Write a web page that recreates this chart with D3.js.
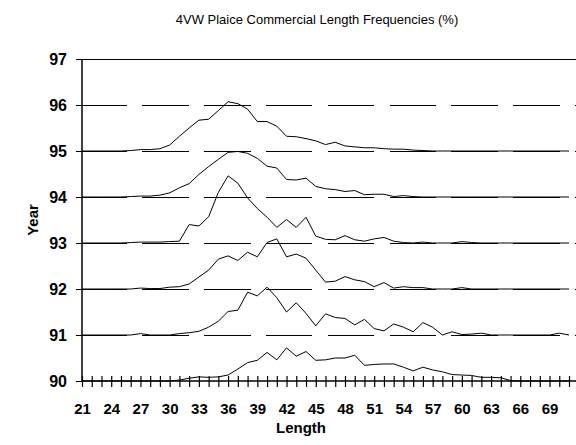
<!DOCTYPE html>
<html>
<head>
<meta charset="utf-8">
<script src="https://cdn.jsdelivr.net/npm/d3@7"></script>
<style>
  body { margin: 0; background: #fff; }
  svg { display: block; font-family: Arial, "Liberation Sans", sans-serif; }
</style>
</head>
<body>
<svg id="chart"></svg>
<script>
// length classes (cm), one per category on the x axis
const lengths = [21, 22, 23, 24, 25, 26, 27, 28, 29, 30, 31, 32, 33, 34, 35, 36, 37, 38, 39, 40,
  41, 42, 43, 44, 45, 46, 47, 48, 49, 50, 51, 52, 53, 54, 55, 56, 57, 58, 59, 60,
  61, 62, 63, 64, 65, 66, 67, 68, 69, 70, 71];

const years = [90, 91, 92, 93, 94, 95];
const yearTicks = [90, 91, 92, 93, 94, 95, 96, 97];
const lengthLabels = [21, 24, 27, 30, 33, 36, 39, 42, 45, 48, 51, 54, 57, 60, 63, 66, 69];

// frequencies (%) by length, one array per year
const freq90 = [0, 0, 0, 0, 0, 0, 0, 0, 0, 0, 0.2, 0.6, 0.9, 0.8, 0.9, 1.3, 2.6, 4.0, 4.5, 6.2,
  4.6, 7.2, 5.4, 6.4, 4.5, 4.6, 5.0, 5.0, 5.6, 3.4, 3.6, 3.7, 3.7, 3.0, 2.2, 3.0, 2.4, 2.0, 1.4, 1.3,
  1.2, 0.8, 0.8, 0.7, 0.1, 0, 0, 0, 0, 0, 0];
const freq91 = [0, 0, 0, 0, 0, 0, 0.3, 0, 0, 0, 0.3, 0.5, 0.8, 1.7, 3.0, 5.1, 5.4, 9.3, 8.5, 10.4,
  8.1, 5.0, 7.0, 4.7, 2.0, 4.6, 3.8, 3.6, 2.2, 3.4, 1.4, 0.9, 2.4, 1.7, 0.7, 2.7, 1.7, 0, 0.7, 0.1,
  0.2, 0.4, 0, 0, 0, 0, 0, 0, 0, 0.4, 0];
const freq92 = [0, 0, 0, 0, 0, 0, 0.2, 0.1, 0.1, 0.4, 0.5, 1.1, 2.6, 4.1, 6.5, 7.2, 6.2, 8.0, 7.0, 10.1,
  10.9, 7.0, 7.6, 6.7, 4.1, 1.5, 1.7, 2.7, 2.0, 1.6, 0.5, 1.4, 0.2, 0.5, 0.3, 0.3, 0, 0, 0, 0.3,
  0, 0, 0, 0, 0, 0, 0, 0, 0, 0, 0];
const freq93 = [0, 0, 0, 0, 0, 0.1, 0.2, 0.2, 0.2, 0.3, 0.4, 4.0, 3.7, 5.7, 11.0, 14.6, 13.0, 9.8, 7.5, 5.6,
  3.4, 5.1, 3.4, 5.6, 1.5, 0.8, 0.7, 1.6, 0.7, 0.4, 0.9, 1.2, 0.4, 0.1, 0, 0.2, 0, 0, 0, 0.3,
  0.1, 0, 0, 0, 0, 0, 0, 0, 0, 0, 0];
const freq94 = [0, 0, 0, 0, 0, 0.1, 0.2, 0.2, 0.4, 0.9, 2.0, 2.9, 4.9, 6.6, 8.2, 9.7, 9.9, 9.5, 8.4, 6.7,
  6.3, 3.8, 3.7, 4.1, 2.3, 1.8, 1.6, 1.2, 1.4, 0.5, 0.6, 0.6, 0.1, 0.3, 0.1, 0, 0, 0, 0, 0,
  0, 0, 0, 0, 0, 0, 0, 0, 0, 0, 0];
const freq95 = [0, 0, 0, 0, 0, 0.1, 0.3, 0.3, 0.5, 1.3, 3.2, 5.0, 6.7, 6.9, 8.8, 10.7, 10.3, 9.1, 6.4, 6.4,
  5.4, 3.2, 3.1, 2.7, 2.2, 1.4, 1.9, 1.1, 0.9, 0.7, 0.7, 0.5, 0.4, 0.4, 0.2, 0.1, 0, 0, 0, 0,
  0, 0, 0, 0, 0, 0, 0, 0, 0, 0, 0];

const freqs = [freq90, freq91, freq92, freq93, freq94, freq95];

function main() {
  const width = 576, height = 445;
  const pctPerYear = 10; // one year band = 10 %

  const svg = d3.select("#chart")
    .attr("width", width)
    .attr("height", height);

  svg.append("rect")
    .attr("width", width).attr("height", height)
    .attr("fill", "#fff");

  const x = d3.scaleLinear().domain([21, 71]).range([82, 569]);
  const y = d3.scaleLinear().domain([90, 97]).range([381, 59]);
  const xRight = width + 2;

  // dashed gridlines
  svg.append("g")
    .selectAll("line")
    .data(yearTicks.slice(1, -1))
    .join("line")
      .attr("x1", x(21)).attr("x2", xRight)
      .attr("y1", d => y(d)).attr("y2", d => y(d))
      .attr("stroke", "#000")
      .attr("stroke-width", 1)
      .attr("stroke-dasharray", "46.5,15.3")
      .attr("stroke-dashoffset", 1.5)
      .attr("shape-rendering", "crispEdges");

  // top border
  svg.append("line")
    .attr("x1", x(21)).attr("x2", xRight)
    .attr("y1", y(97)).attr("y2", y(97))
    .attr("stroke", "#000")
    .attr("shape-rendering", "crispEdges");

  // series
  const line = d3.line()
    .x((d, i) => x(lengths[i]))
    .y(d => y(d.year + d.pct / pctPerYear));

  svg.append("g")
    .selectAll("path")
    .data(years.map((yr, k) => freqs[k].map(p => ({year: yr, pct: p}))))
    .join("path")
      .attr("d", d => line(d))
      .attr("fill", "none")
      .attr("stroke", "#000")
      .attr("stroke-width", 1);

  // y axis
  const yAxis = svg.append("g")
    .attr("transform", `translate(${x(21)},0)`)
    .call(d3.axisLeft(y).tickValues(yearTicks).tickSize(6).tickPadding(9).tickFormat(d3.format("d")));
  yAxis.select(".domain").remove();
  yAxis.append("line")
    .attr("y1", y(97)).attr("y2", y(90))
    .attr("stroke", "#000").attr("stroke-width", 1.5);
  yAxis.selectAll("text")
    .attr("font-size", 16).attr("font-weight", "bold")
    .attr("font-family", "Arial, 'Liberation Sans', sans-serif")
    .attr("fill", "#000");

  // x axis
  const xAxis = svg.append("g")
    .attr("transform", `translate(0,${y(90)})`)
    .call(d3.axisBottom(x).tickValues(lengths).tickSize(6).tickPadding(16)
      .tickFormat(d => lengthLabels.includes(d) ? d : ""));
  xAxis.select(".domain").remove();
  xAxis.selectAll(".tick line").attr("y1", -5).attr("y2", 6).attr("stroke-width", 1.2);
  xAxis.append("line")
    .attr("x1", x(21)).attr("x2", xRight)
    .attr("stroke", "#000").attr("stroke-width", 1.5);
  xAxis.selectAll("text")
    .attr("font-size", 15).attr("font-weight", "bold")
    .attr("font-family", "Arial, 'Liberation Sans', sans-serif")
    .attr("fill", "#000");

  // titles
  svg.append("text")
    .attr("x", 317).attr("y", 24)
    .attr("text-anchor", "middle")
    .attr("font-size", 13)
    .text("4VW Plaice Commercial Length Frequencies (%)");

  svg.append("text")
    .attr("x", 301).attr("y", 433)
    .attr("text-anchor", "middle")
    .attr("font-size", 15).attr("font-weight", "bold")
    .text("Length");

  svg.append("text")
    .attr("transform", "translate(38,220) rotate(-90)")
    .attr("text-anchor", "middle")
    .attr("font-size", 15).attr("font-weight", "bold")
    .text("Year");
}

window.addEventListener("load", main);
</script>
</body>
</html>
